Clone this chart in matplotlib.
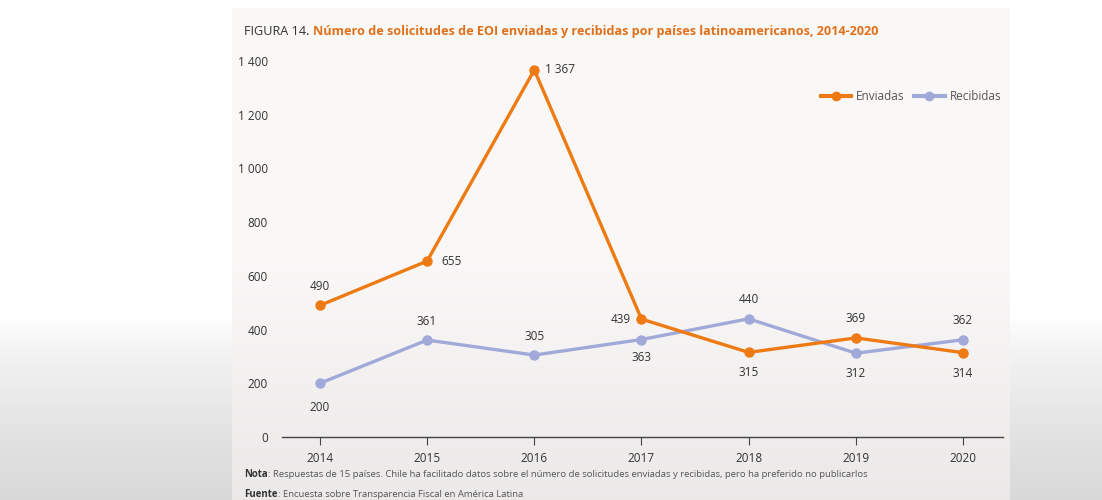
import matplotlib
matplotlib.use("Agg")
import matplotlib.pyplot as plt
import numpy as np
from matplotlib.lines import Line2D

years = [2014, 2015, 2016, 2017, 2018, 2019, 2020]
enviadas = [490, 655, 1367, 439, 315, 369, 314]
recibidas = [200, 361, 305, 363, 440, 312, 362]
yticks = [0, 200, 400, 600, 800, 1000, 1200, 1400]
ytick_labels = ["0", "200", "400", "600", "800", "1 000", "1 200", "1 400"]
env_labels = ["490", "655", "1 367", "439", "315", "369", "314"]
rec_labels = ["200", "361", "305", "363", "440", "312", "362"]

ORANGE = "#EE7A14"
BLUE = "#A0A9D8"
TXT = "#333333"
FONT = ["Open Sans", "DejaVu Sans"]
plt.rcParams["font.family"] = FONT

W, H = 1102, 500
fig = plt.figure(figsize=(W / 100, H / 100), dpi=100)
fig.patch.set_facecolor("white")

# background gradient
bg = fig.add_axes([0, 0, 1, 1], zorder=-10)
bg.set_axis_off()
rows = np.linspace(0, 1, 250)
g = np.where(rows < 0.64, 1.0, 1.0 - 0.15 * ((rows - 0.64) / 0.36) ** 0.7)
img = np.repeat(g[:, None], 10, axis=1)
img = np.stack([img, img, img], axis=2)
bg.imshow(img, aspect="auto", extent=[0, 1, 0, 1], origin="upper")
# panel
pg = np.where(rows < 0.5, 0.982, 0.982 - 0.06 * ((rows - 0.5) / 0.5))
pimg = np.stack([pg * 1.0, pg * 0.993, pg * 0.99], axis=1)[:, None, :].repeat(10, axis=1)
bg.imshow(np.clip(pimg, 0, 1), aspect="auto", extent=[232 / W, 1010 / W, 0, 1 - 8 / H], origin="upper")
bg.set_xlim(0, 1)
bg.set_ylim(0, 1)

ax = fig.add_axes([282 / W, 1 - 437 / H, (1003 - 282) / W, (437 - 61) / H])
ax.set_facecolor("none")
ax.plot(years, enviadas, color=ORANGE, lw=2.4, marker="o", ms=6.5, solid_capstyle="round", zorder=3, label="Enviadas")
ax.plot(years, recibidas, color=BLUE, lw=2.4, marker="o", ms=6.5, solid_capstyle="round", zorder=2, label="Recibidas")

ax.set_xlim(2013.646, 2020.373)
ax.set_ylim(0, 1400)
ax.set_xticks(years)
ax.set_xticklabels([str(y) for y in years])
ax.set_yticks(yticks)
ax.set_yticklabels(ytick_labels)
for s in ["top", "right", "left"]:
    ax.spines[s].set_visible(False)
ax.spines["bottom"].set_color("#444444")
ax.spines["bottom"].set_linewidth(1.0)
ax.tick_params(axis="x", direction="out", length=6, width=0.8, color="#444444", labelsize=8.5, labelcolor=TXT, pad=5)
ax.tick_params(axis="y", length=0, labelsize=8.5, labelcolor=TXT, pad=10)

fs = 8.5
env_off = [(0, 9, "center", "bottom"), (10, 0, "left", "center"), (8, 0, "left", "center"),
           (-8, 0, "right", "center"), (0, -10, "center", "top"), (0, 9, "center", "bottom"),
           (0, -10, "center", "top")]
rec_off = [(0, -13, "center", "top"), (0, 9, "center", "bottom"), (0, 9, "center", "bottom"),
           (0, -8, "center", "top"), (0, 9, "center", "bottom"), (0, -10, "center", "top"),
           (0, 9, "center", "bottom")]
for x, y, t, (dx, dy, ha, va) in zip(years, enviadas, env_labels, env_off):
    ax.annotate(t, (x, y), xytext=(dx, dy), textcoords="offset points", ha=ha, va=va,
                fontsize=fs, color=TXT, annotation_clip=False)
for x, y, t, (dx, dy, ha, va) in zip(years, recibidas, rec_labels, rec_off):
    ax.annotate(t, (x, y), xytext=(dx, dy), textcoords="offset points", ha=ha, va=va,
                fontsize=fs, color=TXT, annotation_clip=False)

handles = [Line2D([], [], color=ORANGE, lw=3, marker="o", ms=6),
           Line2D([], [], color=BLUE, lw=3, marker="o", ms=6)]
leg = ax.legend(handles, ["Enviadas", "Recibidas"], loc="upper right", bbox_to_anchor=(1.012, 0.95),
                ncol=2, frameon=False, fontsize=8.5, handlelength=2.6, columnspacing=0.8,
                handletextpad=0.4, labelcolor="#555555")


def two_part(x_px, y_px, a, b, fs_a, fs_b, col_a, col_b, w_a, w_b, bold_first):
    t = fig.text(x_px / W, 1 - y_px / H, a, fontsize=fs_a, color=col_a, va="baseline", ha="left",
                 fontweight=w_a)
    fig.canvas.draw()
    bb = t.get_window_extent(renderer=fig.canvas.get_renderer())
    fig.text(bb.x1 / W, 1 - y_px / H, b, fontsize=fs_b, color=col_b, va="baseline", ha="left",
             fontweight=w_b)


two_part(244, 35, "FIGURA 14. ",
         "Número de solicitudes de EOI enviadas y recibidas por países latinoamericanos, 2014-2020",
         9.1, 9.1, "#333333", "#E0701A", "normal", "bold", False)
two_part(244, 477, "Nota",
         ": Respuestas de 15 países. Chile ha facilitado datos sobre el número de solicitudes enviadas y recibidas, pero ha preferido no publicarlos",
         6.9, 6.8, "#333333", "#555555", "bold", "normal", True)
two_part(244, 497, "Fuente", ": Encuesta sobre Transparencia Fiscal en América Latina",
         6.9, 6.8, "#333333", "#555555", "bold", "normal", True)

fig.savefig("out.png", dpi=100, facecolor=fig.get_facecolor())
